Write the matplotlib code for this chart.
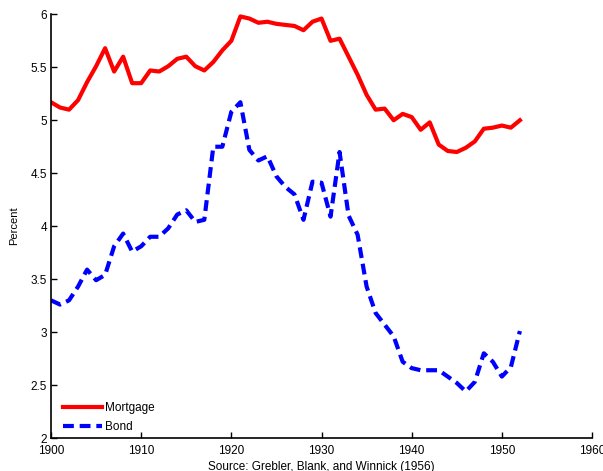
import matplotlib
matplotlib.use("Agg")
import matplotlib.pyplot as plt

years = list(range(1900, 1953))

mortgage = [5.17, 5.12, 5.10, 5.19, 5.36, 5.51, 5.68, 5.46, 5.60, 5.35,
            5.35, 5.47, 5.46, 5.51, 5.58, 5.60, 5.51, 5.47, 5.55, 5.66,
            5.75, 5.98, 5.96, 5.92, 5.93, 5.91, 5.90, 5.89, 5.85, 5.93,
            5.96, 5.75, 5.77, 5.60, 5.43, 5.24, 5.10, 5.11, 5.00, 5.06,
            5.03, 4.91, 4.98, 4.77, 4.71, 4.70, 4.74, 4.80, 4.92, 4.93,
            4.95, 4.93, 5.00]

bond = [3.30, 3.26, 3.30, 3.43, 3.59, 3.49, 3.54, 3.81, 3.93, 3.76,
        3.81, 3.90, 3.90, 3.98, 4.11, 4.15, 4.04, 4.06, 4.75, 4.75,
        5.08, 5.17, 4.72, 4.62, 4.66, 4.47, 4.37, 4.30, 4.06, 4.42,
        4.41, 4.09, 4.70, 4.10, 3.92, 3.43, 3.18, 3.07, 2.96, 2.72,
        2.66, 2.64, 2.64, 2.64, 2.58, 2.52, 2.44, 2.53, 2.80, 2.72,
        2.58, 2.67, 3.01]

plt.rcParams['font.family'] = ['Liberation Sans', 'DejaVu Sans']

fig = plt.figure(figsize=(6.03, 4.71), dpi=100)
ax = fig.add_axes([0.0846, 0.07, 0.8972, 0.8996])

ax.plot(years, mortgage, color='#ff0000', lw=3, label='Mortgage')
ax.plot(years, bond, color='#0000ff', lw=3, ls=(0, (2.6, 1.4)), label='Bond')

ax.set_xlim(1900, 1960)
ax.set_ylim(2, 6)
ax.set_xticks(range(1900, 1961, 10))
ax.set_yticks([2, 2.5, 3, 3.5, 4, 4.5, 5, 5.5, 6])
ax.set_yticklabels(['2', '2.5', '3', '3.5', '4', '4.5', '5', '5.5', '6'])
ax.tick_params(direction='in', length=4.5, width=1, labelsize=8.5)
ax.tick_params(axis='y', pad=3)
ax.tick_params(axis='x', pad=5)
ax.spines['top'].set_visible(False)
ax.spines['right'].set_visible(False)
ax.spines['left'].set_linewidth(1.2)
ax.spines['bottom'].set_linewidth(1.2)

ax.set_ylabel('Percent', fontsize=8, labelpad=8)
ax.set_xlabel('Source: Grebler, Blank, and Winnick (1956)', fontsize=8.5, labelpad=3)

ax.legend(loc='lower left', bbox_to_anchor=(0.012, 0.0), frameon=False,
          fontsize=8.5, handlelength=3.3, handletextpad=0.25,
          labelspacing=0.6, borderaxespad=0.15, borderpad=0.3)

fig.savefig('out.png', dpi=100)
